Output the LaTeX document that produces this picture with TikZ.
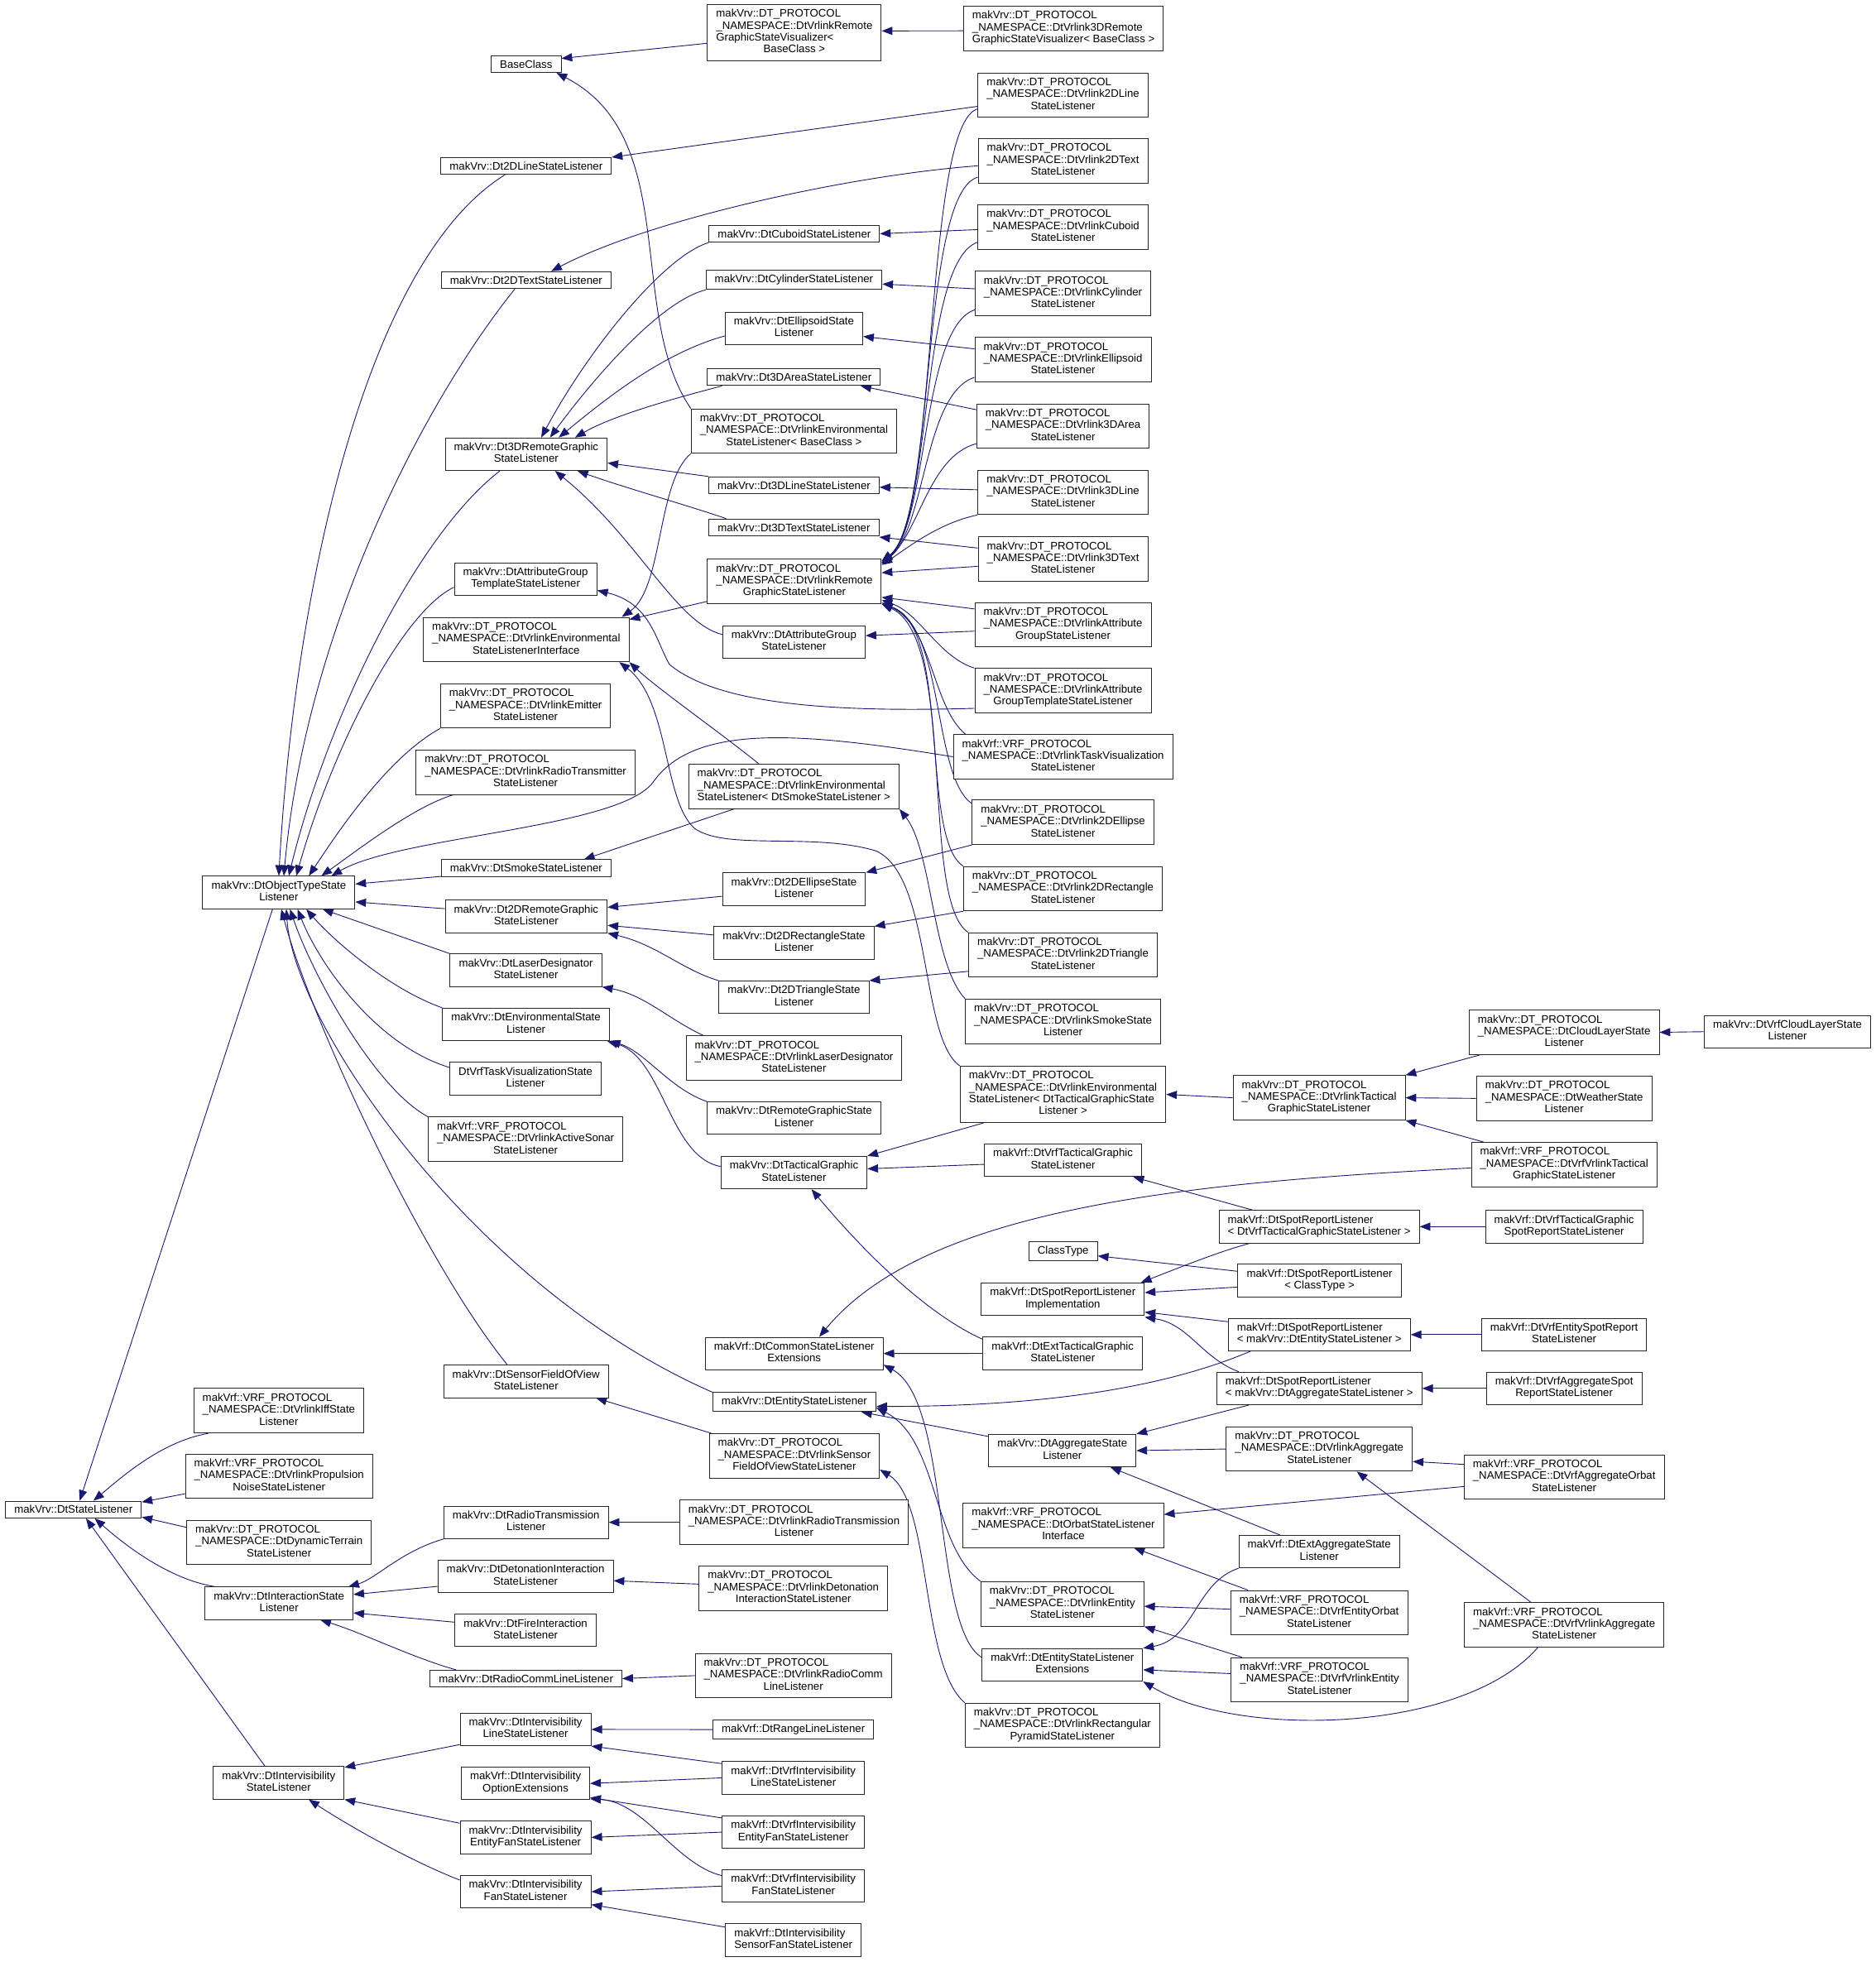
\documentclass[tikz,border=0pt]{standalone}
\usepackage{fontspec}
\setmainfont{Liberation Sans}
\usetikzlibrary{arrows.meta}
\pgfdeclarelayer{bg}
\pgfdeclarelayer{paper}
\pgfsetlayers{paper,bg,main}
\definecolor{eblue}{RGB}{25,25,112}
\newcommand{\fs}{\fontsize{8.75}{9.5}\selectfont}
\newcommand{\Lbl}[2]{\begin{tabular}{@{}l@{}}#1\\\multicolumn{1}{@{}c@{}}{#2}\end{tabular}}
\tikzset{
  bx/.style={draw=black!85, line width=0.65pt, fill=white, inner xsep=7pt, inner ysep=3.5pt, font=\fs},
  e/.style={draw=eblue, line width=0.6pt, -{Triangle[length=8.5pt,width=6.5pt]}}
}
\begin{document}
\begin{tikzpicture}[x=1pt,y=-1pt]
\begin{pgfonlayer}{paper}
\fill[white] (0,0) rectangle (1499,1568);
\end{pgfonlayer}
\useasboundingbox (0,0) rectangle (1499,1568);
% ---------- nodes ----------
\node[bx] (n1) at (420.5,51.2) {BaseClass};
\node[bx] (n2) at (634.8,26.1) {\Lbl{makVrv::DT\_PROTOCOL\\\_NAMESPACE::DtVrlinkRemote\\GraphicStateVisualizer<}{BaseClass >}};
\node[bx] (n3) at (849.9,22.6) {\Lbl{makVrv::DT\_PROTOCOL\\\_NAMESPACE::DtVrlink3DRemote}{GraphicStateVisualizer< BaseClass >}};
\node[bx] (n4) at (849.5,76) {\Lbl{makVrv::DT\_PROTOCOL\\\_NAMESPACE::DtVrlink2DLine}{StateListener}};
\node[bx] (n5) at (849.5,128.5) {\Lbl{makVrv::DT\_PROTOCOL\\\_NAMESPACE::DtVrlink2DText}{StateListener}};
\node[bx] (n6) at (849.5,181.5) {\Lbl{makVrv::DT\_PROTOCOL\\\_NAMESPACE::DtVrlinkCuboid}{StateListener}};
\node[bx] (n7) at (849.5,234.5) {\Lbl{makVrv::DT\_PROTOCOL\\\_NAMESPACE::DtVrlinkCylinder}{StateListener}};
\node[bx] (n8) at (849.5,287.5) {\Lbl{makVrv::DT\_PROTOCOL\\\_NAMESPACE::DtVrlinkEllipsoid}{StateListener}};
\node[bx] (n9) at (849.5,340.5) {\Lbl{makVrv::DT\_PROTOCOL\\\_NAMESPACE::DtVrlink3DArea}{StateListener}};
\node[bx] (n10) at (849.5,393.5) {\Lbl{makVrv::DT\_PROTOCOL\\\_NAMESPACE::DtVrlink3DLine}{StateListener}};
\node[bx] (n11) at (849.5,446.8) {\Lbl{makVrv::DT\_PROTOCOL\\\_NAMESPACE::DtVrlink3DText}{StateListener}};
\node[bx] (n12) at (849.5,499.2) {\Lbl{makVrv::DT\_PROTOCOL\\\_NAMESPACE::DtVrlinkAttribute}{GroupStateListener}};
\node[bx] (n13) at (849.5,552) {\Lbl{makVrv::DT\_PROTOCOL\\\_NAMESPACE::DtVrlinkAttribute}{GroupTemplateStateListener}};
\node[bx] (n14) at (849.5,604.8) {\Lbl{makVrf::VRF\_PROTOCOL\\\_NAMESPACE::DtVrlinkTaskVisualization}{StateListener}};
\node[bx] (n15) at (849.5,657.2) {\Lbl{makVrv::DT\_PROTOCOL\\\_NAMESPACE::DtVrlink2DEllipse}{StateListener}};
\node[bx] (n16) at (849.5,710.2) {\Lbl{makVrv::DT\_PROTOCOL\\\_NAMESPACE::DtVrlink2DRectangle}{StateListener}};
\node[bx] (n17) at (849.5,763.2) {\Lbl{makVrv::DT\_PROTOCOL\\\_NAMESPACE::DtVrlink2DTriangle}{StateListener}};
\node[bx] (n18) at (849.5,816.2) {\Lbl{makVrv::DT\_PROTOCOL\\\_NAMESPACE::DtVrlinkSmokeState}{Listener}};
\node[bx] (n19) at (849.5,874.6) {\Lbl{makVrv::DT\_PROTOCOL\\\_NAMESPACE::DtVrlinkEnvironmental\\StateListener< DtTacticalGraphicState}{Listener >}};
\node[bx] (n20) at (634.8,186.8) {makVrv::DtCuboidStateListener};
\node[bx] (n21) at (634.5,223.8) {makVrv::DtCylinderStateListener};
\node[bx] (n22) at (634.5,262.5) {\Lbl{makVrv::DtEllipsoidState}{Listener}};
\node[bx] (n23) at (634.4,301.4) {makVrv::Dt3DAreaStateListener};
\node[bx] (n24) at (634.5,344.5) {\Lbl{makVrv::DT\_PROTOCOL\\\_NAMESPACE::DtVrlinkEnvironmental}{StateListener< BaseClass >}};
\node[bx] (n25) at (634.5,387.8) {makVrv::Dt3DLineStateListener};
\node[bx] (n26) at (634.5,421.5) {makVrv::Dt3DTextStateListener};
\node[bx] (n27) at (634.8,464.6) {\Lbl{makVrv::DT\_PROTOCOL\\\_NAMESPACE::DtVrlinkRemote}{GraphicStateListener}};
\node[bx] (n28) at (634.5,513.1) {\Lbl{makVrv::DtAttributeGroup}{StateListener}};
\node[bx] (n29) at (634.4,628.5) {\Lbl{makVrv::DT\_PROTOCOL\\\_NAMESPACE::DtVrlinkEnvironmental}{StateListener< DtSmokeStateListener >}};
\node[bx] (n30) at (634.5,710.6) {\Lbl{makVrv::Dt2DEllipseState}{Listener}};
\node[bx] (n31) at (634.5,753.6) {\Lbl{makVrv::Dt2DRectangleState}{Listener}};
\node[bx] (n32) at (634.5,797) {\Lbl{makVrv::Dt2DTriangleState}{Listener}};
\node[bx] (n33) at (634.5,845.5) {\Lbl{makVrv::DT\_PROTOCOL\\\_NAMESPACE::DtVrlinkLaserDesignator}{StateListener}};
\node[bx] (n34) at (634.5,893.6) {\Lbl{makVrv::DtRemoteGraphicState}{Listener}};
\node[bx] (n35) at (634.5,937.1) {\Lbl{makVrv::DtTacticalGraphic}{StateListener}};
\node[bx] (n36) at (420.5,132.7) {makVrv::Dt2DLineStateListener};
\node[bx] (n37) at (420.5,223.8) {makVrv::Dt2DTextStateListener};
\node[bx] (n38) at (420.5,363) {\Lbl{makVrv::Dt3DRemoteGraphic}{StateListener}};
\node[bx] (n39) at (420,462.8) {\Lbl{makVrv::DtAttributeGroup}{TemplateStateListener}};
\node[bx] (n40) at (420.5,511.1) {\Lbl{makVrv::DT\_PROTOCOL\\\_NAMESPACE::DtVrlinkEnvironmental}{StateListenerInterface}};
\node[bx] (n41) at (420,564.2) {\Lbl{makVrv::DT\_PROTOCOL\\\_NAMESPACE::DtVrlinkEmitter}{StateListener}};
\node[bx] (n42) at (420,617.2) {\Lbl{makVrv::DT\_PROTOCOL\\\_NAMESPACE::DtVrlinkRadioTransmitter}{StateListener}};
\node[bx] (n43) at (420.5,693.8) {makVrv::DtSmokeStateListener};
\node[bx] (n44) at (420.5,732.4) {\Lbl{makVrv::Dt2DRemoteGraphic}{StateListener}};
\node[bx] (n45) at (420.3,775.4) {\Lbl{makVrv::DtLaserDesignator}{StateListener}};
\node[bx] (n46) at (420.3,818.7) {\Lbl{makVrv::DtEnvironmentalState}{Listener}};
\node[bx] (n47) at (420,862.1) {\Lbl{DtVrfTaskVisualizationState}{Listener}};
\node[bx] (n48) at (420,910.5) {\Lbl{makVrf::VRF\_PROTOCOL\\\_NAMESPACE::DtVrlinkActiveSonar}{StateListener}};
\node[bx] (n49) at (420.4,1104) {\Lbl{makVrv::DtSensorFieldOfView}{StateListener}};
\node[bx] (n50) at (222.8,713.3) {\Lbl{makVrv::DtObjectTypeState}{Listener}};
\node[bx] (n51) at (58.7,1206.4) {makVrv::DtStateListener};
\node[bx] (n52) at (222.8,1127.4) {\Lbl{makVrf::VRF\_PROTOCOL\\\_NAMESPACE::DtVrlinkIffState}{Listener}};
\node[bx] (n53) at (223,1179.7) {\Lbl{makVrf::VRF\_PROTOCOL\\\_NAMESPACE::DtVrlinkPropulsion}{NoiseStateListener}};
\node[bx] (n54) at (223,1232.7) {\Lbl{makVrv::DT\_PROTOCOL\\\_NAMESPACE::DtDynamicTerrain}{StateListener}};
\node[bx] (n55) at (223,1281.3) {\Lbl{makVrv::DtInteractionState}{Listener}};
\node[bx] (n56) at (222.7,1424.8) {\Lbl{makVrv::DtIntervisibility}{StateListener}};
\node[bx] (n57) at (420.4,1216.6) {\Lbl{makVrv::DtRadioTransmission}{Listener}};
\node[bx] (n58) at (420,1259.8) {\Lbl{makVrv::DtDetonationInteraction}{StateListener}};
\node[bx] (n59) at (420,1303) {\Lbl{makVrv::DtFireInteraction}{StateListener}};
\node[bx] (n60) at (420.4,1341.5) {makVrv::DtRadioCommLineListener};
\node[bx] (n61) at (634.5,1216.6) {\Lbl{makVrv::DT\_PROTOCOL\\\_NAMESPACE::DtVrlinkRadioTransmission}{Listener}};
\node[bx] (n62) at (634,1269.3) {\Lbl{makVrv::DT\_PROTOCOL\\\_NAMESPACE::DtVrlinkDetonation}{InteractionStateListener}};
\node[bx] (n63) at (634,1339.1) {\Lbl{makVrv::DT\_PROTOCOL\\\_NAMESPACE::DtVrlinkRadioComm}{LineListener}};
\node[bx] (n64) at (420,1382.1) {\Lbl{makVrv::DtIntervisibility}{LineStateListener}};
\node[bx] (n65) at (420,1425.3) {\Lbl{makVrf::DtIntervisibility}{OptionExtensions}};
\node[bx] (n66) at (420,1468.4) {\Lbl{makVrv::DtIntervisibility}{EntityFanStateListener}};
\node[bx] (n67) at (420,1511.8) {\Lbl{makVrv::DtIntervisibility}{FanStateListener}};
\node[bx] (n68) at (634,1382.2) {makVrf::DtRangeLineListener};
\node[bx] (n69) at (634,1420.8) {\Lbl{makVrf::DtVrfIntervisibility}{LineStateListener}};
\node[bx] (n70) at (634,1464.2) {\Lbl{makVrf::DtVrfIntervisibility}{EntityFanStateListener}};
\node[bx] (n71) at (634,1507.3) {\Lbl{makVrf::DtVrfIntervisibility}{FanStateListener}};
\node[bx] (n72) at (634,1550.4) {\Lbl{makVrf::DtIntervisibility}{SensorFanStateListener}};
\node[bx] (n73) at (634.7,1081.7) {\Lbl{makVrf::DtCommonStateListener}{Extensions}};
\node[bx] (n74) at (634.8,1120.5) {makVrv::DtEntityStateListener};
\node[bx] (n75) at (634.8,1163.5) {\Lbl{makVrv::DT\_PROTOCOL\\\_NAMESPACE::DtVrlinkSensor}{FieldOfViewStateListener}};
\node[bx] (n76) at (849.6,999.7) {ClassType};
\node[bx] (n77) at (849.3,1038.3) {\Lbl{makVrf::DtSpotReportListener}{Implementation}};
\node[bx] (n78) at (849.3,1081.6) {\Lbl{makVrf::DtExtTacticalGraphic}{StateListener}};
\node[bx] (n79) at (849.5,927.3) {\Lbl{makVrf::DtVrfTacticalGraphic}{StateListener}};
\node[bx] (n80) at (849,1159.3) {\Lbl{makVrv::DtAggregateState}{Listener}};
\node[bx] (n81) at (849.8,1219) {\Lbl{makVrf::VRF\_PROTOCOL\\\_NAMESPACE::DtOrbatStateListener}{Interface}};
\node[bx] (n82) at (849,1281.8) {\Lbl{makVrv::DT\_PROTOCOL\\\_NAMESPACE::DtVrlinkEntity}{StateListener}};
\node[bx] (n83) at (849,1330.5) {\Lbl{makVrf::DtEntityStateListener}{Extensions}};
\node[bx] (n84) at (849,1378.8) {\Lbl{makVrv::DT\_PROTOCOL\\\_NAMESPACE::DtVrlinkRectangular}{PyramidStateListener}};
\node[bx] (n85) at (1054.2,877.3) {\Lbl{makVrv::DT\_PROTOCOL\\\_NAMESPACE::DtVrlinkTactical}{GraphicStateListener}};
\node[bx] (n86) at (1054.2,980.3) {\Lbl{makVrf::DtSpotReportListener}{< DtVrfTacticalGraphicStateListener >}};
\node[bx] (n87) at (1054.5,1023.3) {\Lbl{makVrf::DtSpotReportListener}{< ClassType >}};
\node[bx] (n88) at (1054.3,1066.6) {\Lbl{makVrf::DtSpotReportListener}{< makVrv::DtEntityStateListener >}};
\node[bx] (n89) at (1054.3,1109.6) {\Lbl{makVrf::DtSpotReportListener}{< makVrv::DtAggregateStateListener >}};
\node[bx] (n90) at (1054.3,1158) {\Lbl{makVrv::DT\_PROTOCOL\\\_NAMESPACE::DtVrlinkAggregate}{StateListener}};
\node[bx] (n91) at (1054.3,1240) {\Lbl{makVrf::DtExtAggregateState}{Listener}};
\node[bx] (n92) at (1054.2,1288.8) {\Lbl{makVrf::VRF\_PROTOCOL\\\_NAMESPACE::DtVrfEntityOrbat}{StateListener}};
\node[bx] (n93) at (1054.5,1342.5) {\Lbl{makVrf::VRF\_PROTOCOL\\\_NAMESPACE::DtVrfVrlinkEntity}{StateListener}};
\node[bx] (n94) at (1250,825) {\Lbl{makVrv::DT\_PROTOCOL\\\_NAMESPACE::DtCloudLayerState}{Listener}};
\node[bx] (n95) at (1250,877.8) {\Lbl{makVrv::DT\_PROTOCOL\\\_NAMESPACE::DtWeatherState}{Listener}};
\node[bx] (n96) at (1250,930.7) {\Lbl{makVrf::VRF\_PROTOCOL\\\_NAMESPACE::DtVrfVrlinkTactical}{GraphicStateListener}};
\node[bx] (n97) at (1250,980.3) {\Lbl{makVrf::DtVrfTacticalGraphic}{SpotReportStateListener}};
\node[bx] (n98) at (1250,1066.6) {\Lbl{makVrf::DtVrfEntitySpotReport}{StateListener}};
\node[bx] (n99) at (1250,1109.6) {\Lbl{makVrf::DtVrfAggregateSpot}{ReportStateListener}};
\node[bx] (n100) at (1250,1180.4) {\Lbl{makVrf::VRF\_PROTOCOL\\\_NAMESPACE::DtVrfAggregateOrbat}{StateListener}};
\node[bx] (n101) at (1250,1298.5) {\Lbl{makVrf::VRF\_PROTOCOL\\\_NAMESPACE::DtVrfVrlinkAggregate}{StateListener}};
\node[bx] (n102) at (1428.5,824.5) {\Lbl{makVrv::DtVrfCloudLayerState}{Listener}};
% ---------- edges ----------
\begin{pgfonlayer}{bg}
\draw[e] ([yshift=-8.5pt]n2.west) -- ([yshift=4.5pt]n1.east);
\draw[e] ([yshift=-2pt]n3.west) -- ([yshift=1.4pt]n2.east);
\draw[e] (n24.north west) .. controls (500,250) and (545,110) .. ([xshift=-4pt]n1.south east);
\draw[e] ([yshift=-9pt]n4.west) -- (n36.north east);
\draw[e] ([yshift=7pt]n4.south west) .. controls (738,100) and (750,415) .. ([yshift=-2pt]n27.north east);
\draw[e] ([yshift=-4pt]n5.west) .. controls (680,140) and (520,175) .. ([xshift=20pt]n37.north);
\draw[e] ([yshift=5pt]n5.south west) .. controls (735,155) and (748,415) .. ([yshift=-2pt]n27.north east);
\draw[e] ([yshift=-2pt]n6.west) -- (n20.east);
\draw[e] ([yshift=6pt]n6.south west) .. controls (735,210) and (745,418) .. ([yshift=-3pt]n27.north east);
\draw[e] ([yshift=3.7pt]n7.west) -- ([yshift=-3.2pt]n21.east);
\draw[e] ([yshift=5pt]n7.south west) .. controls (736,262) and (742,420) .. ([yshift=-3pt]n27.north east);
\draw[e] ([yshift=8.7pt]n8.west) -- ([yshift=-6.4pt]n22.east);
\draw[e] ([yshift=4pt]n8.south west) .. controls (738,315) and (740,422) .. ([yshift=-4pt]n27.north east);
\draw[e] ([yshift=-5pt]n9.north west) -- ([xshift=-16pt]n23.south east);
\draw[e] ([yshift=4pt]n9.south west) .. controls (742,365) and (735,425) .. ([yshift=-4pt]n27.north east);
\draw[e] ([yshift=2.1pt]n10.west) -- ([yshift=-1.6pt]n25.east);
\draw[e] (n10.south west) .. controls (750,418) and (725,438) .. ([yshift=-5pt]n27.north east);
\draw[e] ([yshift=8.8pt]n11.west) -- ([yshift=-7.7pt]n26.east);
\draw[e] ([yshift=-5.8pt]n11.west) -- ([yshift=6.9pt]n27.east);
\draw[e] ([yshift=-5.5pt]n12.north west) -- ([yshift=5.3pt]n27.south east);
\draw[e] ([yshift=-5.2pt]n12.west) -- ([yshift=5.1pt]n28.east);
\draw[e] (n13.north west) .. controls (750,525) and (735,490) .. ([yshift=3pt]n27.south east);
\draw[e] ([yshift=4pt]n13.south west) .. controls (650,570) and (570,560) .. (535,531) .. controls (524,512) and (520,482) .. ([yshift=-9pt]n39.east);
\draw[e] ([xshift=10pt]n14.north west) .. controls (745,565) and (745,500) .. ([yshift=1pt]n27.south east);
\draw[e] (n14.west) .. controls (640,585) and (555,578) .. (522,625) .. controls (495,662) and (320,668) .. ([xshift=42pt]n50.north);
\draw[e] ([yshift=-3pt]n15.north west) .. controls (745,620) and (755,500) .. (n27.south east);
\draw[e] (n15.south west) -- (n30.north east);
\draw[e] (n16.north west) .. controls (735,670) and (760,500) .. (n27.south east);
\draw[e] (n16.south west) -- (n31.north east);
\draw[e] (n17.north west) .. controls (735,720) and (765,510) .. (n27.south east);
\draw[e] ([yshift=5pt]n17.south west) -- (n32.north east);
\draw[e] (n18.north west) .. controls (745,770) and (745,680) .. (n29.south east);
\draw[e] (n19.north west) .. controls (735,830) and (745,700) .. (700,680) .. controls (650,665) and (580,680) .. (555,662) .. controls (530,640) and (535,560) .. ([xshift=-8pt]n40.south east);
\draw[e] ([xshift=19pt]n19.south west) -- (n35.north east);
\draw[e] (n85.west) -- (n19.east);
\draw[e] ([xshift=9pt]n94.south west) -- (n85.north east);
\draw[e] (n95.west) -- (n85.east);
\draw[e] ([xshift=10pt]n96.north west) -- (n85.south east);
\draw[e] ([yshift=-2.7pt]n96.west) .. controls (950,945) and (740,965) .. ([xshift=20pt]n73.north);
\draw[e] (n102.west) -- (n94.east);
\draw[e] (n20.south west) .. controls (530,205) and (470,280) .. ([xshift=12pt]n38.north);
\draw[e] (n21.south west) .. controls (530,240) and (480,295) .. ([xshift=19pt]n38.north);
\draw[e] ([yshift=-6pt]n22.west) .. controls (530,282) and (485,318) .. ([xshift=26pt]n38.north);
\draw[e] ([xshift=12pt]n23.south west) .. controls (540,318) and (490,332) .. ([xshift=39pt]n38.north);
\draw[e] (n25.north west) -- ([yshift=-7pt]n38.east);
\draw[e] ([xshift=14pt]n26.north west) .. controls (550,404) and (500,390) .. ([xshift=41pt]n38.south);
\draw[e] ([yshift=6pt]n28.west) .. controls (540,498) and (510,430) .. ([xshift=23pt]n38.south);
\draw[e] ([xshift=-17pt]n36.south) .. controls (290,210) and (235,480) .. (n50.north);
\draw[e] ([xshift=-9pt]n37.south) .. controls (340,320) and (245,500) .. ([xshift=4pt]n50.north);
\draw[e] ([xshift=-21pt]n38.south) .. controls (330,430) and (260,580) .. ([xshift=8pt]n50.north);
\draw[e] ([yshift=-6.5pt]n39.west) .. controls (320,490) and (265,600) .. ([xshift=14pt]n50.north);
\draw[e] (n41.south west) .. controls (310,605) and (270,665) .. ([xshift=24pt]n50.north);
\draw[e] ([xshift=-58pt]n42.south) .. controls (330,645) and (285,680) .. ([xshift=34pt]n50.north);
\draw[e] ([yshift=-6.6pt]n43.west) -- ([yshift=6.8pt]n50.east);
\draw[e] ([yshift=6.2pt]n44.west) -- ([yshift=-7.5pt]n50.east);
\draw[e] (n45.north west) -- ([xshift=35pt]n50.south);
\draw[e] (n46.north west) .. controls (310,790) and (265,750) .. ([xshift=22pt]n50.south);
\draw[e] ([yshift=9pt]n47.west) .. controls (300,835) and (255,770) .. ([xshift=15pt]n50.south);
\draw[e] (n48.north west) .. controls (300,870) and (250,780) .. ([xshift=9pt]n50.south);
\draw[e] (n74.north west) .. controls (380,1030) and (235,820) .. ([xshift=6pt]n50.south);
\draw[e] ([xshift=-15pt]n49.north) .. controls (340,1010) and (250,820) .. ([xshift=2pt]n50.south);
\draw[e] ([xshift=-5pt]n50.south) -- ([xshift=5pt]n51.north);
\draw[e] ([xshift=12pt]n52.south west) .. controls (130,1152) and (100,1178) .. ([xshift=16pt]n51.north);
\draw[e] ([yshift=4pt]n53.south west) -- ([yshift=6pt]n51.east);
\draw[e] ([yshift=-6pt]n54.north west) -- ([yshift=-6pt]n51.east);
\draw[e] ([xshift=8pt]n55.north west) .. controls (135,1262) and (100,1235) .. ([xshift=17pt]n51.south);
\draw[e] ([xshift=-11pt]n56.north) -- ([xshift=10pt]n51.south);
\draw[e] (n57.south west) .. controls (320,1240) and (300,1262) .. ([xshift=-4pt]n55.north east);
\draw[e] ([yshift=-8pt]n58.west) -- ([yshift=7pt]n55.east);
\draw[e] ([yshift=6.6pt]n59.west) -- ([yshift=-7.7pt]n55.east);
\draw[e] ([xshift=21pt]n60.north west) .. controls (330,1325) and (290,1305) .. ([xshift=33pt]n55.south);
\draw[e] (n61.west) -- (n57.east);
\draw[e] ([yshift=3.3pt]n62.west) -- ([yshift=-3.5pt]n58.east);
\draw[e] (n63.west) -- (n60.east);
\draw[e] ([yshift=1.2pt]n64.south west) -- ([yshift=-1pt]n56.north east);
\draw[e] ([yshift=-2pt]n66.north west) -- (n56.south east);
\draw[e] ([yshift=-4pt]n67.north west) .. controls (330,1488) and (280,1460) .. ([xshift=24pt]n56.south);
\draw[e] (n68.west) -- (n64.east);
\draw[e] ([yshift=-2pt]n69.north west) -- (n64.south east);
\draw[e] (n69.west) -- (n65.east);
\draw[e] ([yshift=-2pt]n70.north west) -- ([yshift=2pt]n65.south east);
\draw[e] (n70.west) -- (n66.east);
\draw[e] ([yshift=-5pt]n71.north west) .. controls (540,1490) and (515,1440) .. ([yshift=1pt]n65.south east);
\draw[e] (n71.west) -- (n67.east);
\draw[e] ([yshift=-3pt]n72.north west) -- ([yshift=3pt]n67.south east);
\draw[e] ([yshift=-5.7pt]n30.west) -- ([yshift=7.3pt]n44.east);
\draw[e] ([yshift=6.4pt]n31.west) -- ([yshift=-7.1pt]n44.east);
\draw[e] (n32.north west) .. controls (545,775) and (525,755) .. (n44.south east);
\draw[e] ([xshift=-48pt]n29.south) -- ([xshift=-22pt]n43.north east);
\draw[e] ([xshift=-28pt]n29.north) .. controls (575,585) and (525,550) .. (n40.south east);
\draw[e] (n24.south west) .. controls (525,385) and (530,470) .. ([xshift=-6pt]n40.north east);
\draw[e] ([yshift=2pt]n27.south west) -- ([yshift=-2pt]n40.north east);
\draw[e] ([xshift=14pt]n33.north west) .. controls (535,815) and (515,795) .. (n45.south east);
\draw[e] (n34.north west) .. controls (535,870) and (515,840) .. (n46.south east);
\draw[e] ([yshift=4.9pt]n35.west) .. controls (535,925) and (530,845) .. ([xshift=-2pt]n46.south east);
\draw[e] ([yshift=-3.2pt]n79.west) -- ([yshift=3pt]n35.east);
\draw[e] ([yshift=-2pt]n78.north west) .. controls (740,1050) and (690,1000) .. ([xshift=14pt]n35.south);
\draw[e] (n78.west) -- (n73.east);
\draw[e] ([yshift=6pt]n83.west) .. controls (745,1300) and (760,1120) .. ([yshift=-9pt]n73.east);
\draw[e] ([xshift=27pt]n86.north west) -- ([xshift=-7pt]n79.south east);
\draw[e] ([xshift=25pt]n86.south west) .. controls (975,1000) and (945,1012) .. ([xshift=-3pt]n77.north east);
\draw[e] (n97.west) -- (n86.east);
\draw[e] ([yshift=-6pt]n87.north west) -- ([yshift=-4pt]n76.east);
\draw[e] ([yshift=-5.3pt]n87.west) -- ([yshift=5.3pt]n77.east);
\draw[e] ([yshift=-3pt]n88.north west) -- ([yshift=3pt]n77.south east);
\draw[e] ([xshift=18pt]n88.south west) .. controls (940,1105) and (850,1124) .. ([yshift=-3.5pt]n74.east);
\draw[e] (n98.west) -- (n88.east);
\draw[e] ([xshift=18pt]n89.north west) .. controls (960,1085) and (950,1058) .. ([yshift=-1pt]n77.south east);
\draw[e] ([xshift=26pt]n89.south west) -- (n80.north east);
\draw[e] (n99.west) -- (n89.east);
\draw[e] (n90.west) -- (n80.east);
\draw[e] ([yshift=-8pt]n100.north west) -- ([yshift=-10pt]n90.east);
\draw[e] ([yshift=-7.6pt]n100.west) -- ([yshift=8.7pt]n81.east);
\draw[e] ([xshift=-26.6pt]n101.north) -- ([xshift=30pt]n90.south);
\draw[e] ([xshift=-21pt]n101.south) .. controls (1170,1385) and (990,1390) .. (n83.south east);
\draw[e] ([xshift=33pt]n91.north west) -- ([xshift=38.5pt]n80.south);
\draw[e] (n91.south west) .. controls (955,1265) and (955,1310) .. (n83.north east);
\draw[e] ([xshift=14pt]n92.north west) -- ([xshift=-24pt]n81.south east);
\draw[e] ([yshift=2.8pt]n92.west) -- ([yshift=-1.9pt]n82.east);
\draw[e] ([xshift=9pt]n93.north west) -- (n82.south east);
\draw[e] ([yshift=5pt]n93.west) -- ([yshift=-4pt]n83.east);
\draw[e] ([yshift=-2pt]n80.north west) -- ([xshift=-12pt]n74.south east);
\draw[e] (n82.north west) .. controls (745,1235) and (750,1150) .. ([yshift=-4.5pt]n74.east);
\draw[e] (n84.north west) .. controls (735,1330) and (745,1200) .. ([yshift=-11pt]n75.east);
\draw[e] ([xshift=2pt]n75.north west) -- ([xshift=56pt]n49.south);
\end{pgfonlayer}
\end{tikzpicture}
\end{document}
